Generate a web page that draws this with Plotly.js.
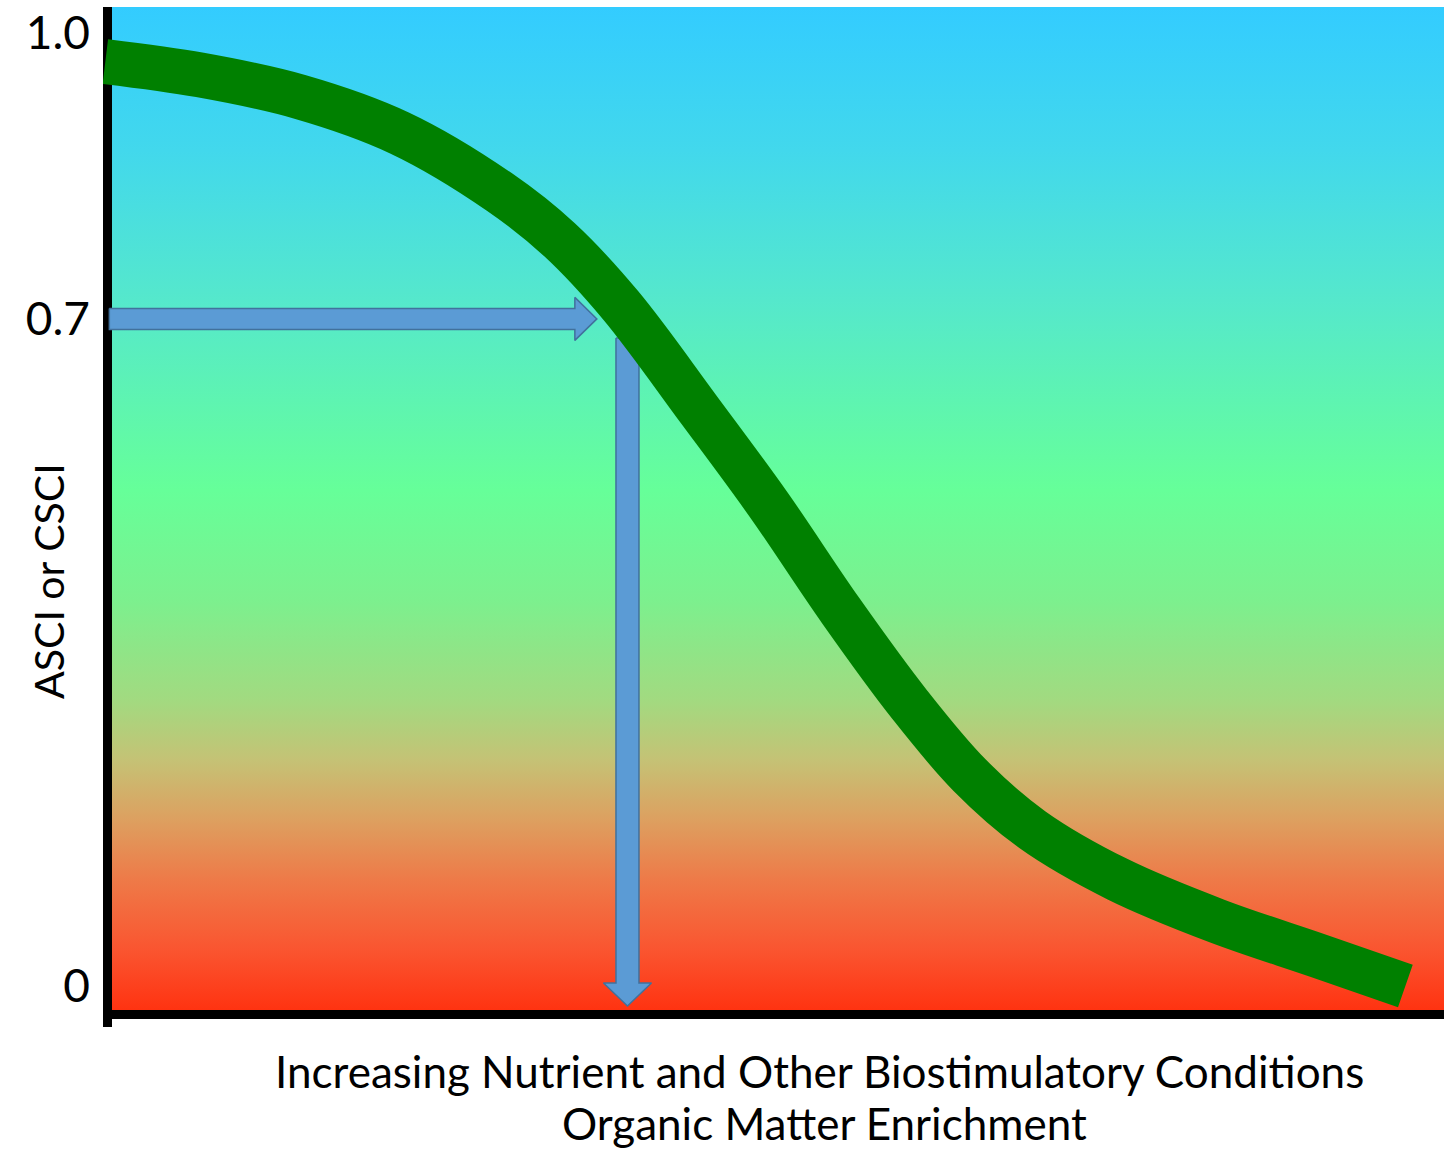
<!DOCTYPE html>
<html><head><meta charset="utf-8">
<script src="https://cdn.plot.ly/plotly-3.0.1.min.js"></script>
<style>html,body{margin:0;padding:0;background:#fff;}#chart{width:1452px;height:1153px;}</style>
</head><body><div id="chart"></div>
<script>
// ---- data ----
const curveX = [-0.05, 0.66, 1.41, 2.16, 2.91, 3.36, 3.82, 4.41, 4.93, 5.47, 5.99, 6.44, 6.91, 7.55, 8.30, 9.05, 9.71];
const curveY = [0.970, 0.956, 0.933, 0.895, 0.833, 0.783, 0.714, 0.604, 0.505, 0.394, 0.295, 0.221, 0.164, 0.112, 0.068, 0.032, 0.000];
const yTickVals = [0, 0.7, 1.0];
const yTickText = ['0', '0.7', '1.0'];
const thresholdScore = 0.7;      // horizontal arrow level
const thresholdStress = 3.87;    // vertical arrow position
const hArrowStart = -0.02, hArrowTip = 3.64;
const vArrowTop = 0.68, vArrowTip = -0.021;
const yTitle = 'ASCI or CSCI';
const xTitleLines = ['Increasing Nutrient and Other Biostimulatory Conditions', 'Organic Matter Enrichment'];
const gradientStops = [
  [0.000, '#FF3311'], [0.060, '#FA5530'], [0.130, '#EE7A48'], [0.190, '#DDA060'],
  [0.249, '#C5C275'], [0.309, '#A2DA80'], [0.409, '#7CF08E'], [0.518, '#66FF99'],
  [0.708, '#55E8CC'], [0.857, '#42D8EC'], [1.000, '#33CCFF']
];

// ---- layout geometry ----
const W = 1452, H = 1153;
const plotL = 103, plotR = 1444, plotT = 7, plotB = 1027;
const px0 = 112, pxPerX = 133.2;   // x=0 at pixel 112
const py0 = 986, pxPerY = 953;     // y=0 at pixel 986
const xr = [(plotL - px0) / pxPerX, (plotR - px0) / pxPerX];
const yr = [(py0 - plotB) / pxPerY, (py0 - plotT) / pxPerY];
const bgBottom = (py0 - 1010) / pxPerY;
const dx = p => p / pxPerX, dy = p => p / pxPerY;

const bg = {
  x: [0, xr[1], xr[1], 0, 0], y: [bgBottom, bgBottom, yr[1], yr[1], bgBottom],
  mode: 'lines', fill: 'toself', line: {width: 0},
  fillgradient: {type: 'vertical', colorscale: gradientStops, start: bgBottom, stop: yr[1]},
  hoverinfo: 'skip', showlegend: false
};

const arrowFill = '#5B9BD5', arrowLine = '#41719C';
// horizontal arrow
const sh = dy(10.5), hh = dy(21.5), hl = dx(22);
const hArrow = {
  x: [hArrowStart, hArrowTip - hl, hArrowTip - hl, hArrowTip, hArrowTip - hl, hArrowTip - hl, hArrowStart, hArrowStart],
  y: [thresholdScore + sh, thresholdScore + sh, thresholdScore + hh, thresholdScore, thresholdScore - hh, thresholdScore - sh, thresholdScore - sh, thresholdScore + sh],
  mode: 'lines', fill: 'toself', fillcolor: arrowFill, line: {color: arrowLine, width: 1.5},
  hoverinfo: 'skip', showlegend: false
};
// vertical arrow
const sw = dx(11.5), hw = dx(24), vl = dy(23);
const vArrow = {
  x: [thresholdStress - sw, thresholdStress + sw, thresholdStress + sw, thresholdStress + hw, thresholdStress, thresholdStress - hw, thresholdStress - sw, thresholdStress - sw],
  y: [vArrowTop, vArrowTop, vArrowTip + vl, vArrowTip + vl, vArrowTip, vArrowTip + vl, vArrowTip + vl, vArrowTop],
  mode: 'lines', fill: 'toself', fillcolor: arrowFill, line: {color: arrowLine, width: 1.5},
  hoverinfo: 'skip', showlegend: false
};

const curve = {
  x: curveX, y: curveY, mode: 'lines',
  line: {color: '#008000', width: 45, shape: 'spline', smoothing: 1},
  hoverinfo: 'skip', showlegend: false
};

const font = 'Lato, "Open Sans", sans-serif';
const layout = {
  width: W, height: H,
  margin: {l: plotL, r: W - plotR, t: plotT, b: H - plotB, pad: 0},
  paper_bgcolor: '#ffffff', plot_bgcolor: '#ffffff',
  showlegend: false,
  xaxis: {range: xr, showgrid: false, zeroline: false, showticklabels: false, ticks: '', showline: false, fixedrange: true},
  yaxis: {range: yr, showgrid: false, zeroline: false, showline: false, ticks: '',
          tickmode: 'array', tickvals: yTickVals, ticktext: yTickText,
          tickfont: {family: font, size: 46, color: '#000'}, ticklabelstandoff: 12, fixedrange: true},
  shapes: [
    {type: 'rect', layer: 'below', xref: 'x', yref: 'y', x0: xr[0], x1: 0, y0: yr[0], y1: yr[1], fillcolor: '#000', line: {width: 0}},
    {type: 'rect', layer: 'below', xref: 'x', yref: 'y', x0: xr[0], x1: xr[1], y0: (py0 - 1019) / pxPerY, y1: bgBottom, fillcolor: '#000', line: {width: 0}}
  ],
  annotations: [
    {text: yTitle, textangle: -90, xref: 'paper', yref: 'paper',
     x: (48 - plotL) / (plotR - plotL), y: (plotB - 581) / (plotB - plotT),
     xanchor: 'center', yanchor: 'middle', showarrow: false,
     font: {family: font, size: 41, color: '#000'}},
    {text: xTitleLines[0], xref: 'paper', yref: 'paper',
     x: (819 - plotL) / (plotR - plotL), y: (plotB - 1071) / (plotB - plotT),
     xanchor: 'center', yanchor: 'middle', showarrow: false,
     font: {family: font, size: 44, color: '#000'}},
    {text: xTitleLines[1], xref: 'paper', yref: 'paper',
     x: (825 - plotL) / (plotR - plotL), y: (plotB - 1123) / (plotB - plotT),
     xanchor: 'center', yanchor: 'middle', showarrow: false,
     font: {family: font, size: 44, color: '#000'}}
  ]
};

Plotly.newPlot('chart', [bg, hArrow, vArrow, curve], layout, {displayModeBar: false, staticPlot: true});
</script>
</body></html>
